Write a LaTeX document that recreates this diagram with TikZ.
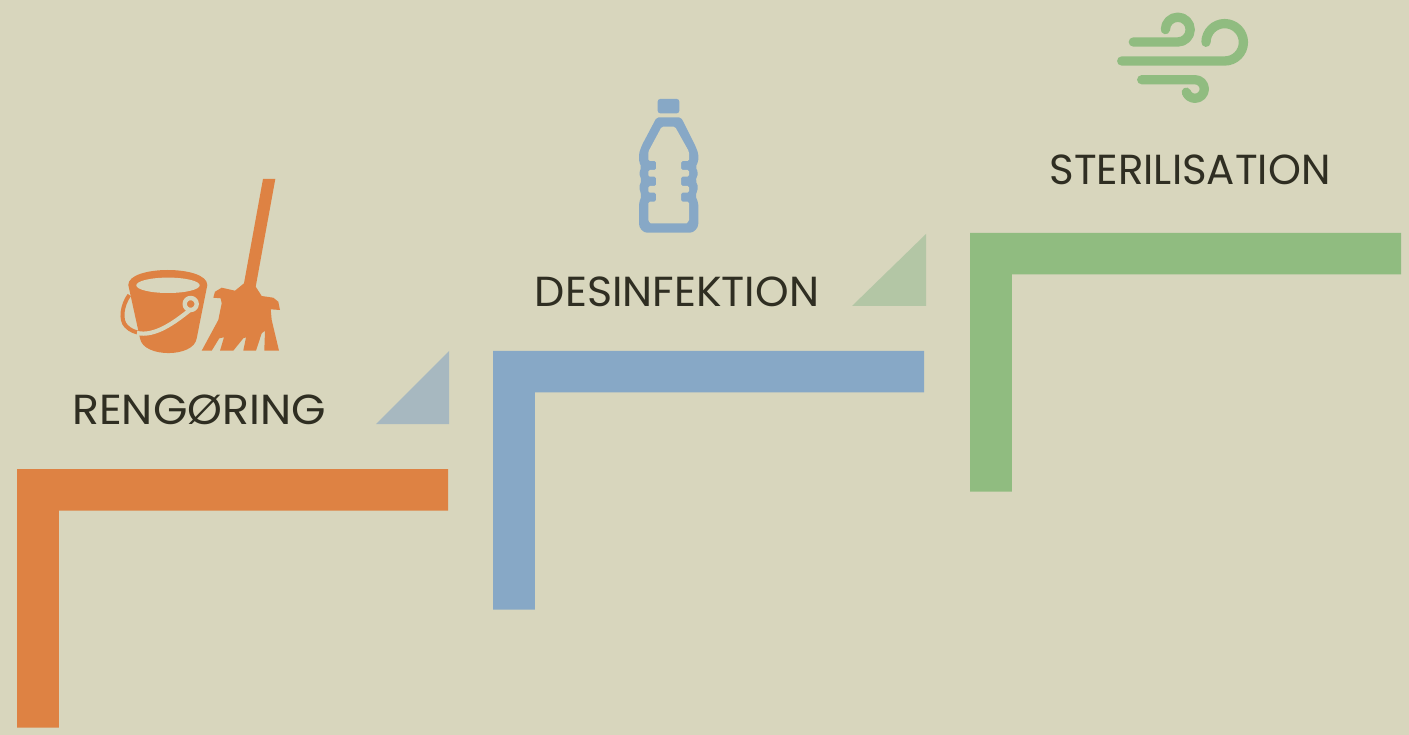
\documentclass[tikz,border=0pt]{standalone}
\usepackage{fontspec}
\setmainfont{Poppins}
\usepackage{xcolor}
\definecolor{bgsand}{RGB}{216, 214, 189}
\definecolor{rengorange}{RGB}{222, 130, 67}
\definecolor{desblue}{RGB}{135, 168, 198}
\definecolor{stergreen}{RGB}{144, 188, 128}
\definecolor{tribluegray}{RGB}{167, 184, 192}
\definecolor{trigreen}{RGB}{179, 198, 165}
\definecolor{stepink}{RGB}{47, 46, 34}
\tikzset{steplabel/.style={text=stepink, inner sep=0pt, font=\fontsize{42}{42}\selectfont}}

\begin{document}
\begin{tikzpicture}[x=1pt, y=-1pt, line join=round]
\useasboundingbox (0,0) rectangle (1409,735);
\fill[bgsand] (0,0) rectangle (1409,735);

% Steps
\foreach \x/\y/\col in {17/469/rengorange, 493/351/desblue, 970/233/stergreen} {
    \begin{scope}[shift={(\x,\y)}]
        \fill[\col] (0,0) -- (431,0) -- (431,41.5) -- (41.75,41.5) -- (41.75,258.5) -- (0,258.5) -- cycle;
    \end{scope}
}

% Triangles
\fill[tribluegray] (449,351) -- (449,424) -- (376,424) -- cycle;
\fill[trigreen] (926,234) -- (926,306) -- (852,306) -- cycle;

% Labels
\node[steplabel, xscale=1.055] (rengoring) at (199,409.5) {RENGØRING};
\node[steplabel, xscale=1.018] (desinfektion) at (677,291.5) {DESINFEKTION};
\node[steplabel, xscale=0.997] (sterilisation) at (1190,169.5) {STERILISATION};

% Mop
\fill[rengorange] (263,179) -- (275.3,179) -- (255.7,286.7) -- (261.7,296) -- (273.3,297.7) -- (278.3,301.7) -- (280,310) -- (270.7,309.3) -- (271.7,320) -- (279,350.7) -- (264.3,350.7) -- (265,330.7) -- (261.7,333.3) -- (256,350.7) -- (243.3,350.7) -- (246,337.3) -- (243.3,338.3) -- (233.3,350.7) -- (220,350.7) -- (224,337.3) -- (219.3,338.3) -- (211.7,350.7) -- (201.7,350.7) -- (218.3,320) -- (221.7,303.3) -- (220.7,298.3) -- (213.3,297.7) -- (215,291.7) -- (221.7,287.7) -- (235,290.7) -- (244,283.3) -- cycle;

% Bucket
\draw[rengorange, line width=4pt] (129.3,295) .. controls (122,305) and (120,320) .. (126,326) .. controls (134,335) and (150,335) .. (160,330);
\fill[rengorange] (128.3,285) .. controls (128.3,265) and (207.3,265) .. (207.3,285) -- (196.7,338.3) .. controls (194,358) and (143,358) .. (140,338.3) -- cycle;
\fill[bgsand] (168,285.3) ellipse [x radius=31.7, y radius=7.7];
\draw[bgsand, line width=4.2pt] (137,333) .. controls (155,337) and (175,322) .. (190,310);
\draw[bgsand, line width=4.4pt] (190.7,304) circle [radius=6];

% Bottle
\fill[desblue, rounded corners=2.5pt] (657.7,99) rectangle (679.3,113.3);
\fill[desblue, rounded corners=2pt] (656.7,117.3) -- (681,117.3) -- (695,145) -- (698.3,153.3) -- (698.3,161.7) -- (695.5,167) -- (698.3,173) -- (695.5,180.5) -- (698.3,187) -- (695.5,196) -- (698.3,203) -- (698.3,221.7) .. controls (698.3,228) and (694,232.7) .. (688,232.7) -- (649,232.7) .. controls (643,232.7) and (639,228) .. (639,221.7) -- (639,203) -- (641.5,196) -- (639,187) -- (641.5,180.5) -- (639,173) -- (641.5,167) -- (639,161.7) -- (639,153.3) -- (642,145) -- cycle;
\fill[bgsand, rounded corners=1.5pt] (661.7,126.7) -- (675,126.7) -- (689,151.7) -- (689,161) -- (681,161) -- (681,170) -- (689,170) -- (689,176.7) -- (681,176.7) -- (681,186) -- (689,186) -- (689,192.7) -- (681,192.7) -- (681,201.7) -- (689,201.7) -- (689,218.3) .. controls (689,221) and (687,223.3) .. (685,223.3) -- (652.3,223.3) .. controls (650,223.3) and (648.3,221) .. (648.3,218.3) -- (648.3,201.7) -- (656,201.7) -- (656,192.7) -- (648.3,192.7) -- (648.3,186) -- (656,186) -- (656,176.7) -- (648.3,176.7) -- (648.3,170) -- (656,170) -- (656,161) -- (648.3,161) -- (648.3,151.7) -- cycle;

% Wind
\draw[stergreen, line width=9.3pt, line cap=round] (1121.7,61) -- (1224.7,61) arc (90:-180:18.7);
\draw[stergreen, line width=9.3pt, line cap=round] (1133.3,42) -- (1177.8,42) arc (90:-180:12.4);
\draw[stergreen, line width=9.3pt, line cap=round] (1141.7,79.7) -- (1195,79.7) arc (-90:160:9.3);
\end{tikzpicture}
\end{document}
